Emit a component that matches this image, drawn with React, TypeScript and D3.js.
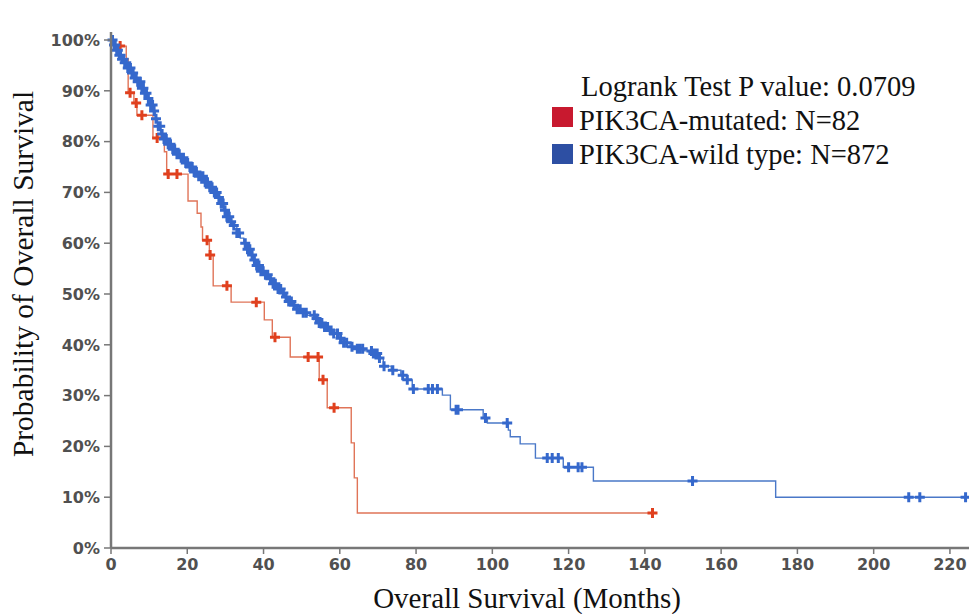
import React from 'react';
import * as d3 from 'd3';

// Kaplan-Meier steps: [month, survival after drop]
const mutatedSteps: [number, number][] = [
  [0, 1], [1.0, 0.988], [4.0, 0.963], [4.5, 0.896], [6.0, 0.876], [6.8, 0.852],
  [11.0, 0.807], [14.0, 0.78], [14.6, 0.736], [20.2, 0.683], [22.6, 0.659],
  [23.6, 0.632], [24.0, 0.606], [25.8, 0.577], [26.8, 0.516], [31.5, 0.484],
  [40.2, 0.449], [42.3, 0.415], [47.0, 0.376], [54.6, 0.331], [56.7, 0.276],
  [63.0, 0.207], [63.8, 0.138], [64.6, 0.069],
];
const mutatedEnd = 142;
const mutatedCensors = [
  2.4, 5.0, 6.6, 8.1, 12.1, 15.0, 17.3, 25.2, 26.0, 30.4, 38.1, 43.0, 51.7,
  54.3, 55.6, 58.5, 142.0,
];

const wildSteps: [number, number][] = [
  [0, 1], [0.5, 0.99], [1.2, 0.98], [1.9, 0.97], [2.7, 0.962], [3.5, 0.955],
  [4.3, 0.945], [5.2, 0.935], [6.1, 0.925], [7.0, 0.918], [7.8, 0.905],
  [8.6, 0.895], [9.5, 0.885], [10.3, 0.872], [11.0, 0.86], [11.6, 0.845],
  [12.2, 0.83], [13.0, 0.815], [13.8, 0.805], [14.7, 0.795], [15.8, 0.785],
  [17.0, 0.775], [18.2, 0.768], [19.4, 0.758], [20.6, 0.75], [21.8, 0.74],
  [23.0, 0.732], [24.3, 0.72], [25.5, 0.71], [26.8, 0.7], [27.9, 0.69],
  [28.8, 0.678], [29.5, 0.665], [30.3, 0.652], [31.2, 0.642], [32.2, 0.635],
  [33.0, 0.62], [33.9, 0.61], [34.8, 0.6], [35.7, 0.588], [36.5, 0.577],
  [37.4, 0.567], [38.2, 0.556], [38.9, 0.545], [40.0, 0.538], [41.2, 0.53],
  [42.5, 0.52], [43.6, 0.51], [44.6, 0.502], [45.6, 0.494], [46.6, 0.485],
  [47.6, 0.478], [48.7, 0.47], [50.0, 0.463], [51.5, 0.458], [53.5, 0.452],
  [54.6, 0.443], [55.6, 0.435], [57.0, 0.428], [58.3, 0.422], [59.5, 0.413],
  [61.0, 0.404], [62.7, 0.396], [64.5, 0.392], [66.5, 0.388], [68.8, 0.383],
  [70.2, 0.374], [71.4, 0.358], [73.5, 0.35], [76.0, 0.34], [77.5, 0.331],
  [79.0, 0.313], [86.9, 0.301], [89.0, 0.272], [97.6, 0.256], [98.7, 0.246],
  [104.2, 0.232], [104.7, 0.219], [107.3, 0.205], [111.3, 0.177],
  [118.6, 0.159], [126.5, 0.132], [174.3, 0.1],
];
const wildEnd = 225;
const wildCensors = [
  0.4, 0.8, 1.1, 1.5, 1.8, 2.2, 2.5, 2.9, 3.3, 3.6, 4.0, 4.4, 4.7, 5.1, 5.5,
  5.8, 6.2, 6.6, 7.0, 7.3, 7.7, 8.1, 8.5, 8.9, 9.3, 9.8, 10.4, 10.9, 11.3,
  11.8, 12.4, 12.9, 13.4, 13.9, 14.5, 15.0, 15.6, 16.2, 16.7, 17.3, 17.9,
  18.4, 19.0, 19.6, 20.1, 20.7, 21.3, 21.8, 22.4, 23.0, 23.5, 24.1, 24.7,
  25.3, 25.9, 26.5, 27.1, 27.7, 28.3, 28.9, 29.4, 29.9, 30.4, 31.0, 31.5,
  32.2, 33.0, 33.6, 35.2, 35.8, 36.4, 37.0, 37.6, 38.2, 38.8, 39.3, 39.9,
  40.5, 41.1, 41.8, 42.5, 43.1, 43.8, 44.5, 45.2, 45.9, 46.6, 47.3, 48.0,
  48.8, 49.6, 50.4, 51.2, 53.3, 53.9, 54.6, 55.3, 56.0, 56.8, 57.6, 58.4,
  59.4, 60.2, 61.0, 61.8, 63.2, 64.6, 65.2, 66.0, 68.3, 68.8, 69.3, 69.8,
  70.4, 71.6, 73.9, 76.5, 77.7, 79.3, 83.2, 84.3, 85.6, 90.5, 91.0, 98.2,
  103.9, 114.4, 115.7, 117.3, 120.0, 122.5, 123.5, 152.5, 209.2, 212.1, 224.1,
];

const xTicks = [0, 20, 40, 60, 80, 100, 120, 140, 160, 180, 200, 220];
const yTicks = [0, 0.1, 0.2, 0.3, 0.4, 0.5, 0.6, 0.7, 0.8, 0.9, 1.0];
const legendTitle = 'Logrank Test P value: 0.0709';
const legendItems = [
  { label: 'PIK3CA-mutated: N=82', color: '#c8192f' },
  { label: 'PIK3CA-wild type: N=872', color: '#2d4fa3' },
];

const W = 969;
const H = 614;

const x = d3.scaleLinear().domain([0, 225]).range([111, 969]);
const y = d3.scaleLinear().domain([0, 1]).range([548, 40]);

const survAt = (steps: [number, number][], t: number) => {
  let s = steps[0][1];
  for (const [st, sv] of steps) if (st <= t) s = sv;
  return s;
};

const stepLine = d3
  .line<[number, number]>()
  .x(d => x(d[0]))
  .y(d => y(d[1]))
  .curve(d3.curveStepAfter);

const plus = (cx: number, cy: number, r: number) =>
  `M${cx - r},${cy}H${cx + r}M${cx},${cy - r}V${cy + r}`;

const Curve = ({ steps, end, censors, line, mark }: any) => {
  const pts: [number, number][] = [...steps, [end, steps[steps.length - 1][1]]];
  return (
    <g>
      <path d={stepLine(pts) || ''} fill="none" stroke={line} strokeWidth={1.4} />
      <path
        d={censors.map((t: number) => plus(x(t), y(survAt(steps, t)), 5)).join('')}
        fill="none"
        stroke={mark}
        strokeWidth={3}
      />
    </g>
  );
};

export default function App() {
  const tickFont = { fontFamily: 'DejaVu Sans, sans-serif', fontSize: 16, fontWeight: 'bold' as const, fill: '#505050' };
  const serif = 'Liberation Serif, Times New Roman, serif';
  return (
    <svg width={W} height={H} style={{ position: 'absolute', left: 0, top: 0, background: '#fff' }}>
      <Curve steps={mutatedSteps} end={mutatedEnd} censors={mutatedCensors} line="#e07458" mark="#e0401e" />
      <Curve steps={wildSteps} end={wildEnd} censors={wildCensors} line="#4a78c8" mark="#3568cc" />

      {/* axes */}
      <line x1={x(0)} x2={x(0)} y1={32} y2={y(0)} stroke="#777" strokeWidth={2.5} />
      <line x1={x(0)} x2={W} y1={y(0)} y2={y(0)} stroke="#777" strokeWidth={2.5} />
      {yTicks.map(t => (
        <g key={'y' + t}>
          <line x1={x(0) - 7} x2={x(0)} y1={y(t)} y2={y(t)} stroke="#777" strokeWidth={1.5} />
          <text x={x(0) - 11} y={y(t)} dy="0.36em" textAnchor="end" {...tickFont}>
            {d3.format('.0%')(t)}
          </text>
        </g>
      ))}
      {xTicks.map(t => (
        <g key={'x' + t}>
          <line x1={x(t)} x2={x(t)} y1={y(0)} y2={y(0) + 6} stroke="#777" strokeWidth={1.5} />
          <text x={x(t)} y={570} textAnchor="middle" {...tickFont}>
            {t}
          </text>
        </g>
      ))}

      <text
        transform={`translate(33, ${(y(0) + y(1)) / 2 - 20}) rotate(-90)`}
        textAnchor="middle"
        fontFamily={serif}
        fontSize={29.5}
        fill="#111"
      >
        Probability of Overall Survival
      </text>
      <text x={527} y={608} textAnchor="middle" fontFamily={serif} fontSize={29} fill="#111">
        Overall Survival (Months)
      </text>

      {/* legend */}
      <text x={581} y={96} fontFamily={serif} fontSize={28.5} fill="#111">
        {legendTitle}
      </text>
      {legendItems.map((d, i) => (
        <g key={d.label}>
          <rect x={552} y={107 + i * 37} width={21} height={20} fill={d.color} />
          <text x={579} y={130 + i * 34} fontFamily={serif} fontSize={28.5} fill="#111">
            {d.label}
          </text>
        </g>
      ))}
    </svg>
  );
}
